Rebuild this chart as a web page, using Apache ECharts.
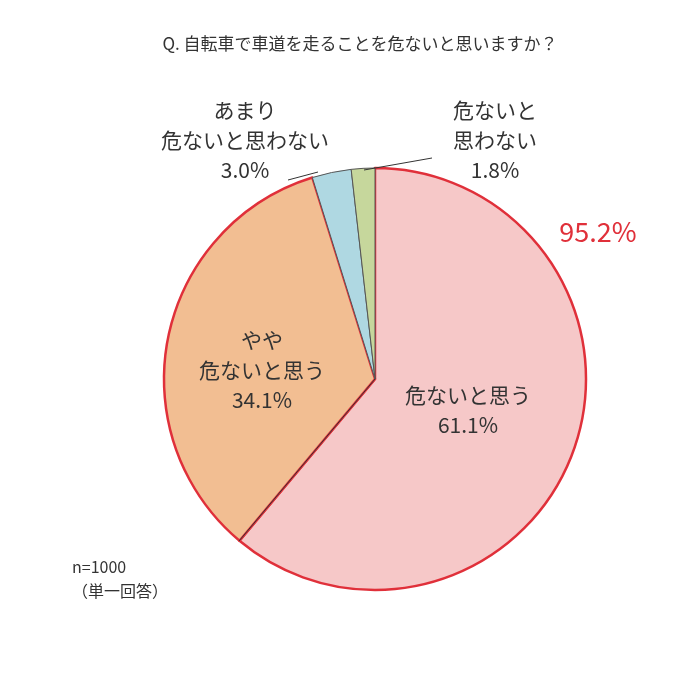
<!DOCTYPE html>
<html><head><meta charset="utf-8">
<script src="https://cdn.jsdelivr.net/npm/echarts@6/dist/echarts.min.js"></script>
<style>html,body{margin:0;background:#fff}#c{width:700px;height:673px}</style></head>
<body><div id="c"></div>
<script>
const categories = ['危ないと思う','やや\n危ないと思う','あまり\n危ないと思わない','危ないと\n思わない'];
const values = [61.1, 34.1, 3.0, 1.8];
const colors = ['#F6C8C8','#F2BE92','#AFD8E2','#C6D79C'];
const F = '"Noto Sans CJK JP", sans-serif';
const chart = echarts.init(document.getElementById('c'));
const cx = 375, cy = 379, r = 211;
const txt = (x, y, s, size, color) => ({type:'text', z:100, zlevel:1, x, y, style:{text:s, font:`${size}px ${F}`, fill:color||'#333', align:'center', verticalAlign:'middle', lineHeight:size*1.45}});
chart.setOption({
  animation:false,
  title:{text:'Q. 自転車で車道を走ることを危ないと思いますか？', left:355, top:30, textAlign:'center',
    textStyle:{fontFamily:F, fontSize:17, fontWeight:'normal', color:'#333'}},
  series:[{
    type:'pie', center:[cx,cy], radius:[0,r], startAngle:90, clockwise:true, label:{show:false}, labelLine:{show:false},
    data: categories.map((n,i)=>({name:n, value:values[i], itemStyle:{color:colors[i],
      borderColor: i<2 ? '#E0303A' : '#555', borderWidth: i<2 ? 2.5 : 1}}))
  }],
  graphic:[
    txt(468, 410, categories[0]+'\n'+values[0].toFixed(1)+'%', 21),
    txt(262, 370, categories[1]+'\n'+values[1].toFixed(1)+'%', 21),
    txt(245, 140, categories[2]+'\n'+values[2].toFixed(1)+'%', 21),
    txt(495, 140, categories[3]+'\n'+values[3].toFixed(1)+'%', 21),
    txt(598, 232, (values[0]+values[1]).toFixed(1)+'%', 27, '#E0303A'),
    {type:'text', z:100, zlevel:1, x:72, y:555, style:{text:'n=1000\n（単一回答）', font:`16px ${F}`, fill:'#333', lineHeight:24}},
    {type:'line', z:100, zlevel:1, shape:{x1:288,y1:180,x2:318,y2:172}, style:{stroke:'#333', lineWidth:1}},
    {type:'line', z:100, zlevel:1, shape:{x1:364,y1:170,x2:432,y2:158}, style:{stroke:'#333', lineWidth:1}},
    {type:'line', z:100, zlevel:1, shape:{x1:cx,y1:cy,x2:cx-136,y2:cy+162}, style:{stroke:'#333', lineWidth:1}}
  ]
});
</script></body></html>
